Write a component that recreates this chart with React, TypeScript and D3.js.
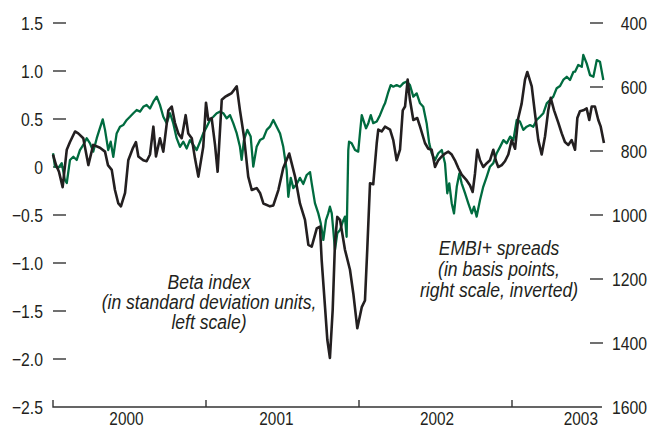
import React from "react";
import * as d3 from "d3";

// Beta index (left scale, standard deviation units); time in fractional years
const betaTimes = [2000.0,2000.02,2000.039,2000.063,2000.09,2000.111,2000.144,2000.165,2000.198,2000.231,2000.263,2000.307,2000.34,2000.359,2000.384,2000.405,2000.427,2000.444,2000.471,2000.492,2000.523,2000.542,2000.558,2000.59,2000.612,2000.634,2000.656,2000.673,2000.699,2000.721,2000.754,2000.776,2000.797,2000.819,2000.841,2000.867,2000.884,2000.907,2000.928,2000.95,2000.982,2001.0,2001.015,2001.037,2001.059,2001.076,2001.103,2001.124,2001.146,2001.168,2001.201,2001.222,2001.248,2001.276,2001.299,2001.331,2001.353,2001.375,2001.418,2001.44,2001.473,2001.505,2001.544,2001.582,2001.614,2001.647,2001.669,2001.691,2001.724,2001.745,2001.756,2001.778,2001.793,2001.81,2001.828,2001.843,2001.858,2001.876,2001.908,2001.941,2001.963,2001.989,2002.018,2002.039,2002.054,2002.072,2002.093,2002.116,2002.126,2002.148,2002.17,2002.203,2002.224,2002.246,2002.268,2002.286,2002.301,2002.318,2002.333,2002.355,2002.381,2002.399,2002.431,2002.453,2002.475,2002.497,2002.518,2002.541,2002.562,2002.584,2002.606,2002.627,2002.649,2002.671,2002.704,2002.725,2002.743,2002.758,2002.773,2002.791,2002.812,2002.835,2002.856,2002.878,2002.894,2002.91,2002.933,2002.954,2002.976,2002.998,2003.02,2003.041,2003.063,2003.085,2003.1,2003.129,2003.15,2003.172,2003.194,2003.216,2003.237,2003.253,2003.275,2003.303,2003.325,2003.346,2003.368,2003.39,2003.412,2003.427,2003.444,2003.466,2003.488,2003.505,2003.521,2003.542,2003.564,2003.58,2003.601];
const betaValues = [0.13,0.02,-0.05,-0.21,0.18,0.26,0.37,0.35,0.30,0.02,0.23,0.20,0.16,0.02,-0.03,-0.24,-0.38,-0.41,-0.27,0.07,0.20,0.26,0.11,0.07,0.06,0.13,0.42,0.11,0.30,0.16,0.59,0.63,0.46,0.35,0.30,0.54,0.35,0.30,0.09,-0.10,0.21,0.67,0.49,0.51,0.23,-0.05,0.70,0.73,0.75,0.77,0.84,0.59,0.32,-0.10,-0.24,-0.22,-0.27,-0.38,-0.41,-0.40,-0.24,-0.01,0.14,-0.10,-0.38,-0.55,-0.81,-0.83,-0.64,-0.62,-0.97,-1.46,-1.80,-1.99,-1.49,-0.79,-0.52,-0.55,-0.86,-1.07,-1.32,-1.68,-1.46,-1.39,-0.86,-0.17,-0.18,0.25,0.39,0.37,0.42,0.39,0.28,0.07,0.18,0.59,0.63,0.91,0.70,0.49,0.51,0.42,0.25,0.19,0.18,0.00,0.07,0.11,0.14,0.16,0.13,0.07,-0.01,-0.08,-0.14,-0.19,-0.26,-0.07,0.18,0.07,0.00,0.04,0.07,0.18,0.07,0.00,0.02,0.06,0.13,0.28,0.19,0.51,0.66,0.91,0.99,0.84,0.56,0.28,0.13,0.32,0.59,0.72,0.59,0.46,0.35,0.26,0.23,0.28,0.18,0.51,0.58,0.59,0.61,0.49,0.63,0.63,0.49,0.42,0.25];

// EMBI+ spreads (right scale, basis points, inverted)
const embiTimes = [2000.0,2000.013,2000.035,2000.057,2000.078,2000.09,2000.111,2000.133,2000.155,2000.176,2000.198,2000.22,2000.242,2000.263,2000.286,2000.303,2000.325,2000.34,2000.361,2000.377,2000.394,2000.416,2000.438,2000.459,2000.482,2000.503,2000.525,2000.547,2000.569,2000.59,2000.612,2000.634,2000.656,2000.678,2000.699,2000.721,2000.743,2000.765,2000.786,2000.808,2000.83,2000.852,2000.874,2000.895,2000.917,2000.939,2000.961,2000.982,2001.005,2001.026,2001.048,2001.07,2001.092,2001.113,2001.135,2001.157,2001.178,2001.201,2001.222,2001.233,2001.248,2001.27,2001.292,2001.309,2001.331,2001.353,2001.375,2001.397,2001.418,2001.44,2001.462,2001.484,2001.505,2001.527,2001.538,2001.554,2001.571,2001.593,2001.614,2001.636,2001.658,2001.68,2001.691,2001.712,2001.734,2001.75,2001.767,2001.784,2001.799,2001.81,2001.822,2001.832,2001.843,2001.858,2001.876,2001.894,2001.908,2001.919,2001.93,2001.935,2001.952,2001.974,2001.995,2002.007,2002.018,2002.028,2002.046,2002.061,2002.077,2002.093,2002.116,2002.137,2002.159,2002.17,2002.192,2002.207,2002.224,2002.246,2002.268,2002.29,2002.312,2002.333,2002.355,2002.377,2002.399,2002.42,2002.442,2002.459,2002.475,2002.497,2002.518,2002.541,2002.562,2002.577,2002.59,2002.606,2002.621,2002.639,2002.656,2002.671,2002.693,2002.714,2002.737,2002.752,2002.769,2002.791,2002.812,2002.835,2002.856,2002.878,2002.9,2002.922,2002.944,2002.966,2002.988,2003.009,2003.031,2003.052,2003.074,2003.096,2003.118,2003.139,2003.161,2003.183,2003.205,2003.227,2003.248,2003.27,2003.292,2003.314,2003.335,2003.358,2003.379,2003.401,2003.412,2003.433,2003.456,2003.466,2003.488,2003.51,2003.532,2003.554,2003.575,2003.597];
const embiValues = [807,849,853,838,891,900,828,818,828,797,781,760,776,802,760,734,701,734,797,771,818,745,724,719,703,693,682,672,677,662,656,667,646,630,656,693,713,682,713,760,787,771,792,766,781,797,771,745,724,703,693,682,677,682,698,688,713,745,787,828,766,734,755,849,787,766,760,734,724,703,724,745,787,859,943,884,916,903,884,903,875,866,901,963,995,1026,1078,1016,995,974,995,1047,1109,1057,1047,1021,1005,1068,797,771,776,797,802,740,688,703,729,713,688,713,708,688,662,651,615,594,599,594,599,588,583,594,630,620,651,662,713,776,807,828,807,797,838,932,901,963,995,912,870,901,932,963,995,974,1005,953,912,880,849,838,807,787,766,776,755,766,703,708,734,724,719,724,703,693,682,651,641,630,604,597,578,568,578,553,552,531,537,500,526,563,568,516,521,578];

const leftTicks = [1.5, 1.0, 0.5, 0, -0.5, -1.0, -1.5, -2.0, -2.5];
const leftTickLabels = ["1.5", "1.0", "0.5", "0", "\u22120.5", "\u22121.0", "\u22121.5", "\u22122.0", "\u22122.5"];
const rightTicks = [400, 600, 800, 1000, 1200, 1400, 1600];
const yearTicks = [2001, 2002, 2003];
const yearLabels = ["2000", "2001", "2002", "2003"];
const yearLabelPos = [2000.48, 2001.46, 2002.51, 2003.45];
const betaNote = ["Beta index", "(in standard deviation units,", "left scale)"];
const embiNote = ["EMBI+ spreads", "(in basis points,", "right scale, inverted)"];

const FONT = "'Liberation Sans', Arial, sans-serif";
const AXIS = "#333333";
const BLACK = "#231f20";
const GREEN = "#006b3f";
const TXT = "#231f20";

function NText(props: { x: number; y: number; sx: number; anchor: string; size: number; italic?: boolean; children: React.ReactNode }) {
  const { x, y, sx, anchor, size, italic, children } = props;
  return (
    <text
      transform={`translate(${x},${y}) scale(${sx},1)`}
      textAnchor={anchor}
      fontSize={size}
      fontStyle={italic ? "italic" : "normal"}
      fill={TXT}
    >
      {children}
    </text>
  );
}

export default function App() {
  const W = 649, H = 429;
  const x = d3.scaleLinear().domain([2000, 2003.6]).range([53, 53 + 3.6 * 153]);
  const yL = d3.scaleLinear().domain([-2.5, 1.5]).range([407, 23]);
  const yR = d3.scaleLinear().domain([400, 1600]).range([23, 407]);
  const xEnd = x(2003.588);

  const betaLine = d3.line<number>().x((_, i) => x(betaTimes[i])).y((d) => yL(d));
  const embiLine = d3.line<number>().x((_, i) => x(embiTimes[i])).y((d) => yR(d));

  const x0 = x(2000);
  const y0 = yL(-2.5);
  const SX = 0.83;

  return (
    <svg width={W} height={H} style={{ position: "absolute", left: 0, top: 0, background: "#fff" }} fontFamily={FONT}>
      <rect x={0} y={0} width={W} height={H} fill="#fff" />
      {leftTicks.map((v, i) => (
        <g key={"l" + i}>
          {v !== -2.5 && (
            <line x1={53} x2={66} y1={yL(v)} y2={yL(v)} stroke={AXIS} strokeWidth={1.4} />
          )}
          <NText x={43} y={yL(v) + 6.8} sx={SX} anchor="end" size={19}>
            {leftTickLabels[i]}
          </NText>
        </g>
      ))}
      {rightTicks.map((v, i) => (
        <g key={"r" + i}>
          {v !== 1600 && (
            <line x1={590} x2={603} y1={yR(v)} y2={yR(v)} stroke={AXIS} strokeWidth={1.4} />
          )}
          <NText x={647} y={yR(v) + 6.8} sx={SX} anchor="end" size={19}>
            {String(v)}
          </NText>
        </g>
      ))}
      <path d={`M${x0},${y0 - 7}V${y0}H${xEnd}`} fill="none" stroke={AXIS} strokeWidth={1.4} />
      {yearTicks.map((t) => (
        <line key={"t" + t} x1={x(t)} x2={x(t)} y1={y0} y2={y0 - 7} stroke={AXIS} strokeWidth={1.4} />
      ))}
      {yearLabels.map((lab, i) => (
        <NText key={lab} x={x(yearLabelPos[i])} y={425} sx={SX} anchor="middle" size={18.5}>
          {lab}
        </NText>
      ))}
      <path d={embiLine(embiValues) || ""} fill="none" stroke={GREEN} strokeWidth={2.3} strokeLinejoin="round" />
      <path d={betaLine(betaValues) || ""} fill="none" stroke={BLACK} strokeWidth={2.6} strokeLinejoin="round" />
      {betaNote.map((s, i) => (
        <NText key={"b" + i} x={209} y={289 + i * 20} sx={0.9} anchor="middle" size={19.5} italic>
          {s}
        </NText>
      ))}
      {embiNote.map((s, i) => (
        <NText key={"e" + i} x={499} y={255 + i * 21} sx={0.9} anchor="middle" size={19.5} italic>
          {s}
        </NText>
      ))}
    </svg>
  );
}
